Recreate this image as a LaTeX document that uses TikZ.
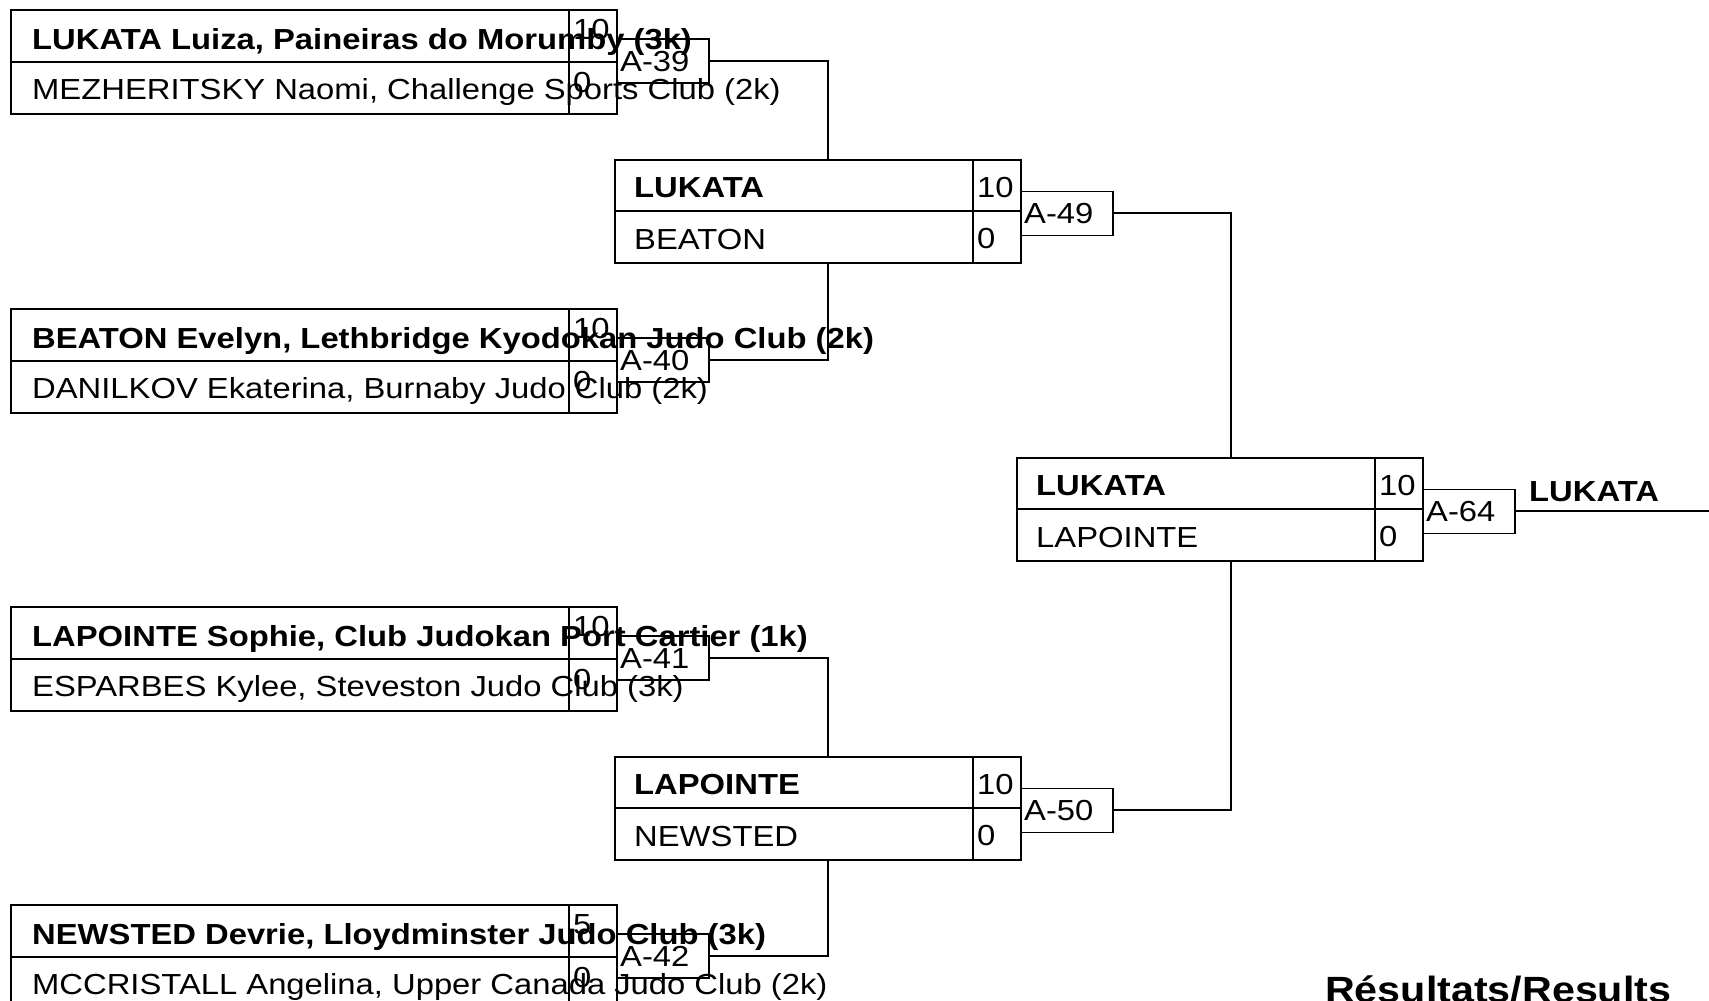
\documentclass[tikz,border=0pt]{standalone}
\usepackage{fontspec}
\setmainfont{Liberation Sans}[FakeStretch=1.13]
\newcommand{\BEntry}[7]{%
  \node[ebox] (#1) at (10,#2) {};
  \draw[lw] (10,#2+53) -- (616,#2+53);
  \draw[lw] (569,#2) -- (569,#2+104);
  \node[bnm] (#1n1) at (32,#2+40) {#3};
  \node[nm] (#1n2) at (32,#2+90) {#4};
  \node[nm] (#1s1) at (573,#2+30) {#5};
  \node[nm] (#1s2) at (573,#2+83) {#6};
  \node[abox] (#1a) at (616,#2+29) {};
  \node[nm] (#1al) at (620,#2+62) {#7};
}
\newcommand{\RBox}[8]{%
  \node[rbox] (#1) at (#2,#3) {};
  \draw[lw] (#2,#3+52) -- (#2+406,#3+52);
  \draw[lw] (#2+359,#3) -- (#2+359,#3+103);
  \node[bnm] (#1n1) at (#2+20,#3+38) {#4};
  \node[nm] (#1n2) at (#2+20,#3+90) {#5};
  \node[nm] (#1s1) at (#2+363,#3+38) {#6};
  \node[nm] (#1s2) at (#2+363,#3+89) {#7};
  \node[abox] (#1a) at (#2+406,#3+31.5) {};
  \node[nm] (#1al) at (#2+410,#3+64.5) {#8};
}
\begin{document}
\begin{tikzpicture}[x=1pt,y=-1pt,
  lw/.style={line width=1.8pt},
  ebox/.style={draw, lw, anchor=north west, minimum width=606pt, minimum height=104pt, inner sep=0pt},
  rbox/.style={draw, lw, anchor=north west, minimum width=406pt, minimum height=103pt, inner sep=0pt},
  abox/.style={draw, line width=1.5pt, anchor=north west, minimum width=92pt, minimum height=44pt, inner sep=0pt},
  nm/.style={anchor=base west, inner sep=0pt, font=\fontsize{29}{31}\selectfont},
  bnm/.style={anchor=base west, inner sep=0pt, font=\fontsize{29}{31}\selectfont\bfseries},
  ttl/.style={anchor=base west, inner sep=0pt, font=\fontsize{36.5}{39}\selectfont\bfseries}]
\clip (0,0) rectangle (1709,1001);
\fill[white] (0,0) rectangle (1709,1001);

\BEntry{ea}{9.3}{LUKATA Luiza, Paineiras do Morumby (3k)}{MEZHERITSKY Naomi, Challenge Sports Club (2k)}{10}{0}{A-39}
\BEntry{eb}{308}{BEATON Evelyn, Lethbridge Kyodokan Judo Club (2k)}{DANILKOV Ekaterina, Burnaby Judo Club (2k)}{10}{0}{A-40}
\BEntry{ec}{606}{LAPOINTE Sophie, Club Judokan Port Cartier (1k)}{ESPARBES Kylee, Steveston Judo Club (3k)}{10}{0}{A-41}
\BEntry{ed}{904}{NEWSTED Devrie, Lloydminster Judo Club (3k)}{MCCRISTALL Angelina, Upper Canada Judo Club (2k)}{5}{0}{A-42}

\RBox{ra}{614}{159}{LUKATA}{BEATON}{10}{0}{A-49}
\RBox{rb}{614}{756}{LAPOINTE}{NEWSTED}{10}{0}{A-50}
\RBox{fin}{1016}{457}{LUKATA}{LAPOINTE}{10}{0}{A-64}

\draw[lw] (eaa.east) -| ([xshift=214pt]ra.north west);
\draw[lw] (eba.east) -| ([xshift=214pt]ra.south west);
\draw[lw] (eca.east) -| ([xshift=214pt]rb.north west);
\draw[lw] (eda.east) -| ([xshift=214pt]rb.south west);
\draw[lw] (raa.east) -| ([xshift=215pt]fin.north west);
\draw[lw] (rba.east) -| ([xshift=215pt]fin.south west);

\coordinate (wend) at (1709,510);
\draw[lw] (fina.east) -- (fina.east -| wend);
\node[bnm] (win) at (1529,501) {LUKATA};
\node[ttl] (res) at (1325,1002) {Résultats/Results};
\end{tikzpicture}
\end{document}
